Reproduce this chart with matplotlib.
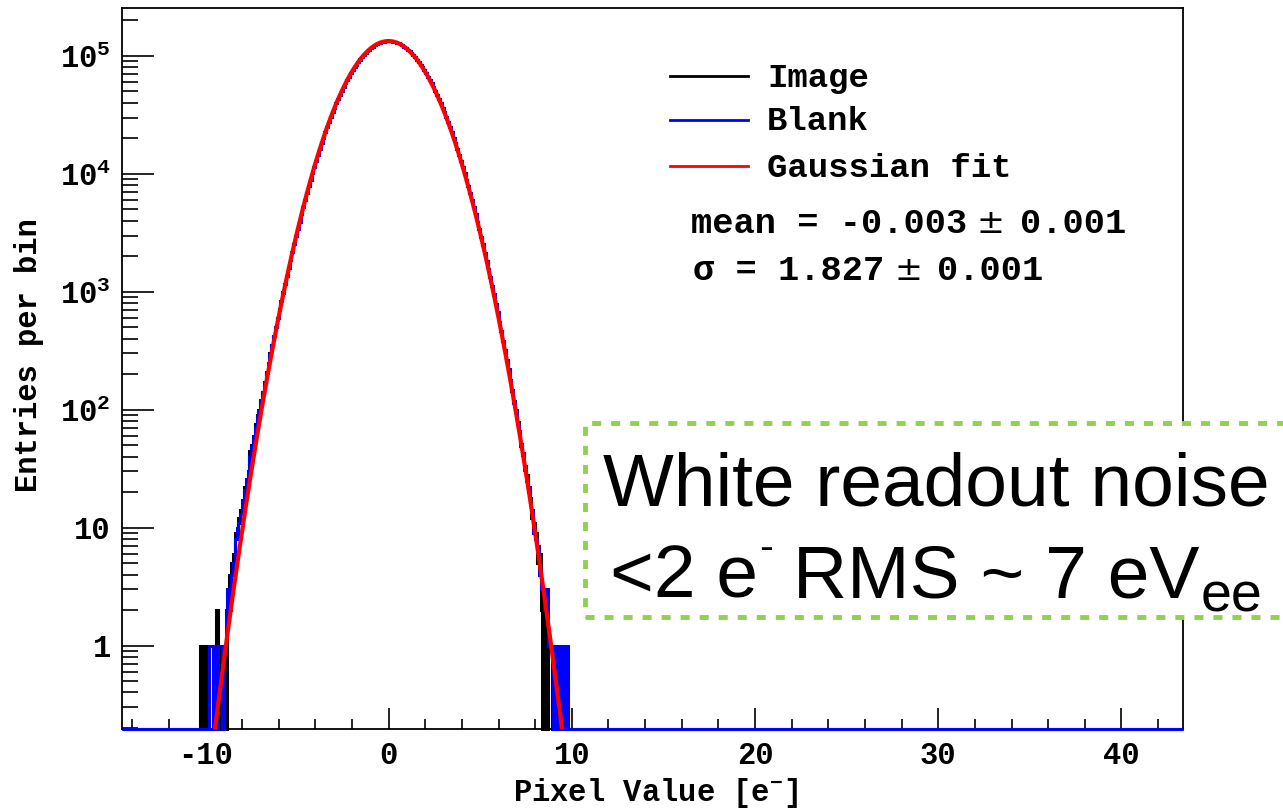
import numpy as np
import matplotlib
matplotlib.use("Agg")
import matplotlib.pyplot as plt
from matplotlib.ticker import MultipleLocator, LogLocator, NullFormatter
from matplotlib.patches import Rectangle
from matplotlib.lines import Line2D

# ---------------- data ----------------
bin_width = 0.1
# bins left of zero (ending at 0), listed from the far left
image_neg = [0, 0, 1, 0, 0, 1, 0, 0, 0, 0,
             0, 2, 0, 1, 0, 1, 0, 2, 4, 5,
             6, 9, 8, 12, 14, 15, 22, 24, 28, 45,
             50, 55, 75, 90,
             100, 118, 142, 172, 205, 250, 300, 355, 425, 505,
             600, 710, 840, 990, 1165, 1365, 1600, 1870, 2180, 2540,
             2950, 3420,
             3941, 4550, 5239, 6013, 6880, 7850, 8930, 10130, 11450, 12910,
             14510, 16260, 18160, 20240, 22470, 24880, 27470, 30230, 33180, 36290,
             39580, 43050, 46670, 50450, 54380, 58440, 62610, 66880, 71210, 75600,
             80030, 84470, 88890, 93260, 97540, 101700, 105800, 109600, 113300, 116800,
             119900, 122900, 125500, 127700, 129700, 131200, 132400, 133200, 133600]
image_pos = [133600, 133200, 132400, 131200, 129700, 127700, 125500, 122900, 119900, 116800,
             113300, 109600, 105800, 101700, 97540, 93260, 88890, 84470, 80030, 75600,
             71210, 66880, 62610, 58440, 54380, 50450, 46670, 43050, 39580, 36290,
             33180, 30230, 27470, 24880, 22470, 20240, 18160, 16260, 14510, 12910,
             11450, 10130, 8930, 7850, 6880, 6013, 5239, 4550, 3941, 3403,
             2930, 2514, 2151, 1835, 1561, 1324, 1120, 944, 793, 665,
             555, 463, 384, 318, 263, 216, 177, 145, 118, 96,
             78, 63, 51, 41, 33,
             28, 20, 18, 12, 11, 9, 5, 6, 2, 0,
             2, 0, 1, 1, 0, 1, 1, 0, 0, 0,
             0, 0, 0, 0, 0]
blank_neg = [0, 0, 0, 0, 0, 0, 0, 1, 1, 0,
             1, 0, 1, 1, 0, 1, 2, 3, 2, 4,
             5, 8, 10, 11, 13, 17, 21, 26, 30, 40,
             48, 60, 72, 88,
             98, 120, 140, 170, 208, 247, 296, 352, 421, 500,
             596, 705, 836, 985, 1160, 1360, 1596, 1866, 2176, 2536,
             2946, 3415,
             3930, 4562, 5228, 6025, 6871, 7862, 8921, 10142, 11440, 12925,
             14498, 16275, 18149, 20256, 22460, 24895, 27458, 30246, 33165, 36305,
             39566, 43068, 46655, 50470, 54362, 58460, 62592, 66900, 71190, 75625,
             80010, 84495, 88870, 93285, 97520, 101725, 105780, 109625, 113280, 116825,
             119880, 122925, 125480, 127725, 129680, 131225, 132380, 133225, 133580]
blank_pos = [133590, 133215, 132385, 131220, 129680, 127725, 125485, 122915, 119880, 116825,
             113285, 109620, 105785, 101720, 97525, 93280, 88870, 84490, 80015, 75620,
             71190, 66900, 62590, 58460, 54365, 50470, 46655, 43070, 39565, 36305,
             33165, 30245, 27460, 24895, 22460, 20255, 18150, 16270, 14500, 12920,
             11440, 10140, 8922, 7858, 6872, 6020, 5232, 4558, 3935, 3410,
             2925, 2520, 2146, 1840, 1556, 1330, 1115, 950, 789, 670,
             551, 468, 380, 322, 259, 220, 174, 148, 115, 99,
             75, 66, 49, 43, 31,
             25, 22, 16, 14, 9, 8, 7, 4, 3, 3,
             2, 3, 1, 1, 1, 0, 1, 1, 0, 1,
             1, 0, 1, 0, 0]
fit_amplitude = 1.337e5
fit_mean = -0.003
fit_sigma = 1.827
fit_range = (-9.8, 9.8)

series_labels = ["Image", "Blank", "Gaussian fit"]
x_tick_values = [-10, 0, 10, 20, 30, 40]
x_tick_labels = ["-10", "0", "10", "20", "30", "40"]
y_tick_values = [1, 10, 100, 1000, 10000, 100000]
y_tick_labels = ["1", "10", r"$\mathregular{10^{2}}$", r"$\mathregular{10^{3}}$",
                 r"$\mathregular{10^{4}}$", r"$\mathregular{10^{5}}$"]
x_title = r"Pixel Value [e$^{-}$]"
y_title = "Entries per bin"
stat_lines = [("mean = -0.003", "±", "0.001"), ("σ = 1.827", "±", "0.001")]
note_line1 = "White readout noise"

# ---------------- style ----------------
plt.rcParams["font.family"] = ["Liberation Mono", "DejaVu Sans Mono"]
plt.rcParams["font.weight"] = "bold"
plt.rcParams["axes.labelweight"] = "bold"
plt.rcParams["mathtext.fontset"] = "custom"
plt.rcParams["mathtext.rm"] = "Liberation Mono:bold"
plt.rcParams["mathtext.it"] = "Liberation Mono:bold"
plt.rcParams["mathtext.bf"] = "Liberation Mono:bold"
plt.rcParams["axes.unicode_minus"] = False
plt.rcParams["lines.scale_dashes"] = False

W, H = 1283, 808
fig = plt.figure(figsize=(W / 100, H / 100), dpi=100)
fig.patch.set_facecolor("white")

def fx(px):
    return px / W

def fy(py):
    return 1 - py / H

ax_l, ax_r, ax_t, ax_b = 122, 1183, 8, 729
ax = fig.add_axes([fx(ax_l), fy(ax_b), (ax_r - ax_l) / W, (ax_b - ax_t) / H])

xmin, xmax = -14.55, 43.36
ymin, ymax = 0.196, 2.55e5
ax.set_yscale("log")
ax.set_xlim(xmin, xmax)
ax.set_ylim(ymin, ymax)

# histograms (zero bins are drawn on the lower frame, as ROOT does)
for neg, pos, color, z in [(image_neg, image_pos, "black", 3.0),
                           (blank_neg, blank_pos, "#0000ff", 3.1)]:
    counts = np.asarray(neg + pos, float)
    edges = -bin_width * len(neg) + bin_width * np.arange(len(counts) + 1)
    full_edges = np.concatenate([[xmin], edges, [xmax]])
    vals = np.maximum(np.concatenate([[0], counts, [0]]), ymin)
    ax.stairs(vals, full_edges, baseline=None, color=color, lw=2.2,
              clip_on=False, zorder=z)

# Gaussian fit
xf = np.linspace(fit_range[0], fit_range[1], 1000)
yf = fit_amplitude * np.exp(-0.5 * ((xf - fit_mean) / fit_sigma) ** 2)
ax.plot(xf, yf, color="#ff0000", lw=3.0, zorder=4)

# ticks
ax.set_xticks(x_tick_values, labels=x_tick_labels)
ax.xaxis.set_minor_locator(MultipleLocator(2))
ax.tick_params(axis="x", which="major", direction="in", length=15, width=1.2,
               top=False, labelsize=22, pad=9)
ax.tick_params(axis="x", which="minor", direction="in", length=7.5, width=1.2, top=False)
ax.set_yticks(y_tick_values, labels=y_tick_labels)
ax.yaxis.set_minor_locator(LogLocator(base=10, subs=np.arange(2, 10) * 1.0, numticks=60))
ax.yaxis.set_minor_formatter(NullFormatter())
ax.tick_params(axis="y", which="major", direction="in", length=23, width=1.2,
               right=False, labelsize=22, pad=8)
ax.tick_params(axis="y", which="minor", direction="in", length=11.5, width=1.2, right=False)
for s in ax.spines.values():
    s.set_linewidth(1.3)

ax.set_xlabel(x_title, fontsize=22, fontweight="bold")
ax.xaxis.set_label_coords(0.503, (ax_b - 776) / (ax_b - ax_t))
ax.set_ylabel(y_title, fontsize=22, fontweight="bold")
ax.yaxis.set_label_coords((44 - ax_l) / (ax_r - ax_l), (ax_b - 355) / (ax_b - ax_t))

# legend (drawn manually, no frame)
leg_colors = ["black", "#0000ff", "#ff0000"]
leg_line_y = [76, 120, 166]
leg_base_y = [86.7, 130, 176.7]
for lab, col, ly, by in zip(series_labels, leg_colors, leg_line_y, leg_base_y):
    fig.add_artist(Line2D([fx(670), fx(748)], [fy(ly), fy(ly)], color=col, lw=2.0))
    fig.text(fx(767), fy(by), lab, fontsize=24.5, ha="left", va="baseline")

# fit statistics
stat_pos = [(691, 990, 1020, 233), (693, 908, 937, 280)]
for (a, pm, b), (xa, xpm, xb, yb) in zip(stat_lines, stat_pos):
    fig.text(fx(xa), fy(yb), a, fontsize=25.5, ha="left", va="baseline")
    fig.text(fx(xpm), fy(yb), pm, fontsize=24, ha="center", va="baseline",
             family="DejaVu Sans", weight="normal")
    fig.text(fx(xb), fy(yb), b, fontsize=25.5, ha="left", va="baseline")

# annotation box
green = "#92D050"
box = Rectangle((fx(585), fy(617)), fx(1295) - fx(585), fy(423) - fy(617),
                transform=fig.transFigure, facecolor="white", edgecolor=green,
                lw=3.5, linestyle=(0, (6.5, 7.2)), zorder=5, clip_on=False)
fig.add_artist(box)

big = dict(family="Liberation Sans", weight="normal", color="black", zorder=6)
center_x = 936
fig.text(fx(center_x), fy(505), note_line1, fontsize=54, ha="center", va="baseline", **big)

renderer = fig.canvas.get_renderer()
# second line: "<2 e⁻ RMS ~ 7 eV_ee"
pieces = [("<2 e", 54, 0, 1), ("-", 30, 37, 20), ("RMS ~ 7 eV", 54, 0, 1), ("ee", 40, -15, 0)]
texts = []
for s, size, dy, gap in pieces:
    t = fig.text(0, 0, s, fontsize=size, ha="left", va="baseline", **big)
    w = t.get_window_extent(renderer=renderer).width
    texts.append((t, w, dy, gap))
total = sum(w + g for _, w, _, g in texts)
x = center_x - total / 2
base2 = 597
for t, w, dy, gap in texts:
    t.set_position((fx(x), fy(base2 - dy)))
    x += w + gap

fig.savefig("out.png", dpi=100, facecolor="white")
